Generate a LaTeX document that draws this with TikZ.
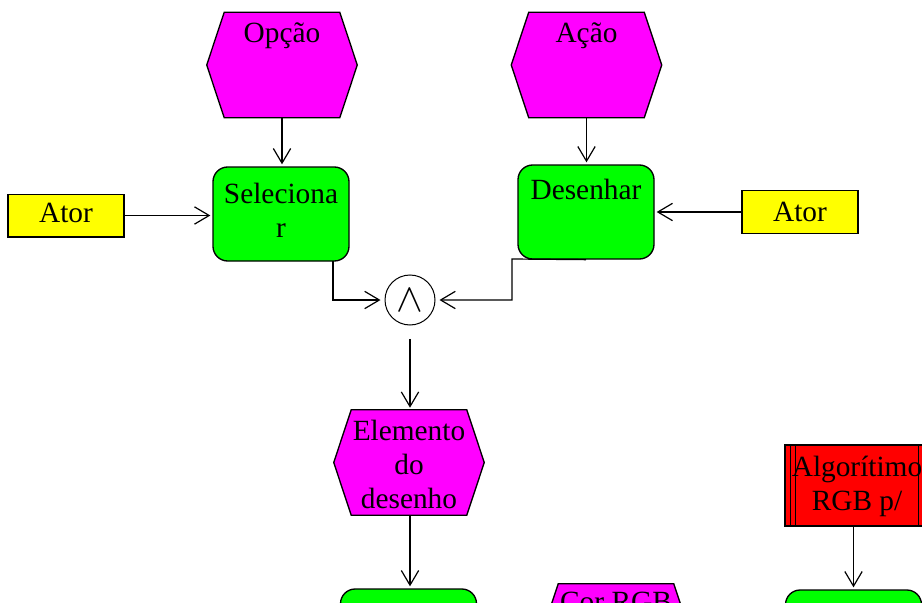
\RequirePackage{fix-cm}
\documentclass[tikz,border=0pt]{standalone}
\usepackage{amsmath}
\usepackage{fontspec}
\setmainfont{Liberation Serif}
\usetikzlibrary{arrows.meta,calc}

\tikzset{
  seta/.style={line width=0.9pt, -{Straight Barb[length=11pt,width=13pt,line width=0.9pt]}, shorten >=1.5pt},
  rotulo/.style={font=\fontsize{22}{25.5}\selectfont, align=center, inner sep=0pt, anchor=base},
  funcao/.style={draw, line width=1pt, fill={rgb,255:red,0;green,255;blue,0}, rounded corners=11pt, minimum width=102pt, minimum height=70.5pt, inner sep=0pt},
  eventobox/.style={minimum width=112.5pt, minimum height=78.75pt, inner sep=0pt},
  evento/.style={draw, line width=1pt, fill={rgb,255:red,255;green,0;blue,255}},
  ator/.style={draw, line width=1pt, fill={rgb,255:red,255;green,255;blue,0}, minimum width=87pt, minimum height=32pt, inner sep=0pt, text height=14.5pt, text depth=4.4pt, font=\fontsize{22}{25.5}\selectfont},
  interface/.style={draw, line width=1pt, fill={rgb,255:red,255;green,0;blue,0}, minimum width=108pt, minimum height=60.75pt, inner sep=0pt},
}

\begin{document}
\begin{tikzpicture}[x=0.75pt,y=0.75pt,yscale=-1,xscale=1]
        \useasboundingbox (0,0) rectangle (922,603);
        \clip (0,0) rectangle (922,603);

        % Eventos (hexagonos)
        \node[eventobox] (opcao) at (282,65) {};
        \node[eventobox] (acao) at (586.5,65) {};
        \node[eventobox] (elemento) at (409,462.5) {};
        \node[eventobox] (corrgb) at (616,636.5) {};
        \foreach \n in {opcao,acao,elemento,corrgb}
          \draw[evento] ($(\n.north west)+(17.5,0)$) -- ($(\n.north east)+(-17.5,0)$) -- (\n.east)
            -- ($(\n.south east)+(-17.5,0)$) -- ($(\n.south west)+(17.5,0)$) -- (\n.west) -- cycle;

        % Funcoes
        \node[funcao] (selecionar) at (281,214) {};
        \node[funcao] (desenhar) at (586,212) {};
        \node[funcao] (funcaoE) at (408.5,636) {};
        \node[funcao] (funcaoD) at (853.5,637) {};

        % Atores
        \node[ator] (atorE) at (66,215.5) {Ator};
        \node[ator, text height=16.8pt, text depth=2.1pt] (atorD) at (800,212) {Ator};

        % Interface de processo
        \node[interface] (algoritmo) at (857,485.5) {};
        \foreach \d in {6,11}
          \draw[line width=1pt] ($(algoritmo.north west)+(\d,0)$) -- ($(algoritmo.south west)+(\d,0)$)
            ($(algoritmo.north east)+(-\d,0)$) -- ($(algoritmo.south east)+(-\d,0)$);

        % Conector E
        \node[draw, circle, line width=0.75pt, minimum size=37.5pt, inner sep=0pt] (e) at (410,300) {\fontsize{30}{30}\selectfont$\wedge$};

        % Text Node
        \node[rotulo] (topcao) at (282,42) {Opção};
        \node[rotulo] (tacao) at (586.5,42) {Ação};
        \node[rotulo] (tselecionar) at (281,237) {Seleciona\\r};
        \node[rotulo] (tdesenhar) at (586,199) {Desenhar};
        \node[rotulo] (telemento) at (409,508) {Elemento\\do\\desenho};
        \node[rotulo] (talgoritmo) at (857,510) {Algorítimo\\RGB p/};
        \node[rotulo] (tcorrgb) at (616,611) {Cor RGB};

        % Setas
        \draw[seta] (opcao.south) -- (opcao.south |- selecionar.north);
        \draw[seta] (acao.south) -- (acao.south |- desenhar.north);
        \draw[seta] (atorE.east) -- (atorE.east -| selecionar.west);
        \draw[seta] (atorD.west) -- (atorD.west -| desenhar.east);
        \coordinate (saidasel) at (333,261);
        \draw[seta, shorten >=3pt] (saidasel) |- (e);
        \coordinate (dobra) at (512,259);
        \draw[seta, shorten >=3pt] (desenhar.south) -- (dobra) |- (e);
        \draw[seta, shorten <=10pt] (e.south) -- (e.south |- elemento.north);
        \draw[seta] (elemento.south -| e.south) -- (funcaoE.north -| e.south);
        \draw[seta] (algoritmo.south -| funcaoD.north) -- (funcaoD.north);

\end{tikzpicture}
\end{document}
